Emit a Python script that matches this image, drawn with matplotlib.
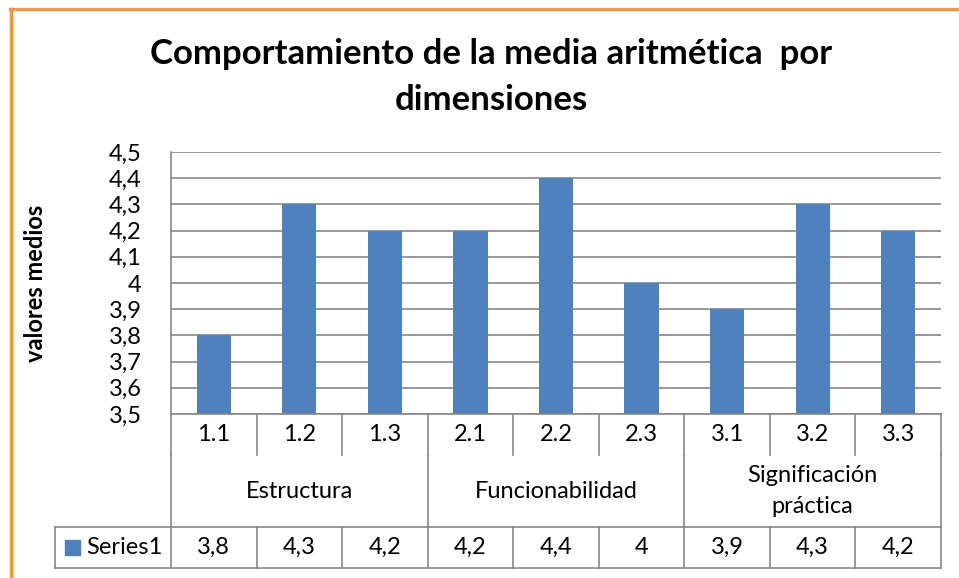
import numpy as np
import matplotlib
matplotlib.use("Agg")
import matplotlib.pyplot as plt
from matplotlib.lines import Line2D
from matplotlib.patches import Rectangle

categories = ["1.1", "1.2", "1.3", "2.1", "2.2", "2.3", "3.1", "3.2", "3.3"]
groups = ["Estructura", "Funcionabilidad", "Significación\npráctica"]
group_sizes = [3, 3, 3]
values = [3.8, 4.3, 4.2, 4.2, 4.4, 4.0, 3.9, 4.3, 4.2]
series_name = "Series1"
y_ticks = [3.5, 3.6, 3.7, 3.8, 3.9, 4.0, 4.1, 4.2, 4.3, 4.4, 4.5]

BAR_COLOR = "#4F81BD"
GRID_COLOR = "#878787"
FONT = "Lato"
FS = 17


def fmt(v):
    return f"{v:g}".replace(".", ",")


W, H = 959, 578
fig = plt.figure(figsize=(W / 100, H / 100), dpi=100)
plt.rcParams["font.family"] = [FONT, "DejaVu Sans"]

# orange chart border (top and left)
fig.add_artist(Line2D([10 / W, 1], [1 - 9 / H, 1 - 9 / H], color="#F79646", lw=2.4))
fig.add_artist(Line2D([11 / W, 11 / W], [0, 1 - 9 / H], color="#F79646", lw=2.4))

left, right, top, bottom, tbl_bottom = 171, 941, 152, 414, 568
ax = fig.add_axes([left / W, 1 - bottom / H, (right - left) / W, (bottom - top) / H])
x = np.arange(len(categories))
ax.bar(x, values, width=0.4, color=BAR_COLOR, zorder=3)
ax.set_xlim(-0.5, len(categories) - 0.5)
ax.set_ylim(y_ticks[0], y_ticks[-1])
ax.set_yticks(y_ticks)
ax.set_yticklabels([fmt(v) for v in y_ticks], fontsize=FS)
ax.set_xticks([])
ax.tick_params(axis="y", length=0, pad=21)
ax.yaxis.grid(True, color=GRID_COLOR, lw=1.2, zorder=0)
for s in ["top", "right", "bottom"]:
    ax.spines[s].set_visible(False)
ax.spines["left"].set_color(GRID_COLOR)
ax.spines["left"].set_linewidth(1.2)
ax.set_ylabel("valores medios", fontsize=FS, fontweight="bold")
ax.yaxis.set_label_coords(-124 / (right - left), 0.5)

fig.suptitle("Comportamiento de la media aritmética  por\ndimensiones",
             fontsize=25, fontweight="bold", y=1 - 38 / H, va="top",
             x=491 / W, linespacing=1.55)

# data table under the plot
tax = fig.add_axes([left / W, 1 - tbl_bottom / H, (right - left) / W, (tbl_bottom - bottom) / H])
tax.set_xlim(-0.5, len(categories) - 0.5)
tax.set_ylim(0, tbl_bottom - bottom)
tax.axis("off")
r1, r2, r3 = 0, 41, 113
rtop = tbl_bottom - bottom
lkw = dict(color=GRID_COLOR, lw=1.2, clip_on=False)
cell_w = (right - left) / len(categories)
x_left_cell = -0.5 - (left - 55) / cell_w

tax.plot([-0.5, len(categories) - 0.5], [rtop, rtop], **lkw)
tax.plot([x_left_cell, len(categories) - 0.5], [r2, r2], **lkw)
tax.plot([x_left_cell, len(categories) - 0.5], [r1, r1], **lkw)
tax.plot([x_left_cell, x_left_cell], [r1, r2], **lkw)
for b in np.arange(len(categories) + 1) - 0.5:
    tax.plot([b, b], [r3, rtop], **lkw)
    tax.plot([b, b], [r1, r2], **lkw)
bounds = np.concatenate([[0], np.cumsum(group_sizes)]) - 0.5
for b in bounds:
    tax.plot([b, b], [r2, r3], **lkw)

for i, (c, v) in enumerate(zip(categories, values)):
    tax.text(i, (r3 + rtop) / 2, c, ha="center", va="center", fontsize=FS)
    tax.text(i, (r1 + r2) / 2, fmt(v), ha="center", va="center", fontsize=FS)
for g, a, b in zip(groups, bounds[:-1], bounds[1:]):
    tax.text((a + b) / 2, (r2 + r3) / 2, g, ha="center", va="center",
             fontsize=FS, linespacing=1.55)

sw = 15 / cell_w
tax.add_patch(Rectangle((x_left_cell + 10 / cell_w, 13), sw, 15, color=BAR_COLOR, clip_on=False))
tax.text(x_left_cell + 31 / cell_w, (r1 + r2) / 2, series_name, ha="left", va="center", fontsize=FS)

fig.savefig("out.png", dpi=100)
